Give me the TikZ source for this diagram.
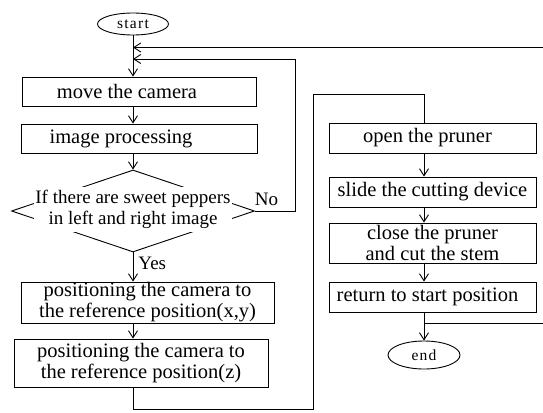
\documentclass[tikz,border=0pt]{standalone}
\usepackage{fontspec}
\setmainfont{Liberation Serif}
\usetikzlibrary{shapes.geometric,arrows.meta}

\begin{document}
\begin{tikzpicture}[x=1pt,y=-1pt,line width=0.9pt,
  box/.style={draw,rectangle,inner sep=0pt,align=center,
    font=\fontsize{20.5}{21}\selectfont},
  term/.style={draw,ellipse,inner sep=0pt,
    font=\fontsize{15.5}{16}\selectfont\addfontfeature{LetterSpace=8}},
  tag/.style={inner sep=0pt,font=\fontsize{19}{20}\selectfont},
  flow/.style={-{Straight Barb[length=7pt,width=9pt]}}]
\clip (0,0) rectangle (543,412);

% left column
\node[term,minimum width=71,minimum height=22] (start) at (133,24) {start};
\node[box,minimum width=234,minimum height=29] (b1) at (139,91.5) {move the camera\hspace*{24pt}};
\node[box,minimum width=236,minimum height=29] (b2) at (139,138.5) {image processing\hspace*{36pt}};
\node[draw,diamond,inner sep=0pt,minimum width=243,minimum height=82] (d) at (133,211) {};
\node[fill=white,inner xsep=1pt,inner ysep=3pt,align=center,
  font=\fontsize{19}{21}\selectfont] (dt) at (133,209.5)
  {If there are sweet peppers\\in left and right image};
\node[box,minimum width=253,minimum height=41] (b3) at (147.5,302.5)
  {positioning the camera to\\the reference position(x,y)};
\node[box,minimum width=254,minimum height=48] (b4) at (141,363)
  {positioning the camera to\\the reference position(z)};
\node[tag,anchor=west] (yes) at (138,263) {Yes};
\node[tag] (no) at (266.5,199.5) {No};

% right column
\node[box,minimum width=207,minimum height=30] (r1) at (432.5,138) {open the pruner\hspace*{10pt}};
\node[box,minimum width=207,minimum height=30] (r2) at (432.5,192) {slide the cutting device};
\node[box,minimum width=207,minimum height=40] (r3) at (432.5,243) {close the pruner\\and cut the stem};
\node[box,minimum width=207,minimum height=30] (r4) at (432.5,297) {return to start position\hspace*{10pt}};
\node[term,minimum width=72,minimum height=28] (end) at (424,355) {end};

% bend points
\coordinate (loopin) at (133,47.5);
\coordinate (noin) at (133,59);
\coordinate (noup) at (295,211);
\coordinate (notop) at (295,59);
\coordinate (low) at (313,409);
\coordinate (high) at (313,94);
\coordinate (retout) at (424,323);
\coordinate (retfar) at (548,323);
\coordinate (rettop) at (548,47.5);

% main flow, left
\draw[flow] (start.south) -- (start.south |- b1.north);
\draw[flow] (start.south |- b1.south) -- (start.south |- b2.north);
\draw[flow] (start.south |- b2.south) -- (d.north);
\draw[flow] (d.south) -- (d.south |- b3.north);
\draw[flow] (d.south |- b3.south) -- (d.south |- b4.north);

% no branch back to the camera step
\draw[flow] (d.east) -- (noup) -- (notop) -- (noin);

% over to the cutting steps
\draw (d.south |- b4.south) |- (low) -- (high) -| (end.north |- r1.north);

% main flow, right
\draw[flow] (end.north |- r1.south) -- (end.north |- r2.north);
\draw[flow] (end.north |- r2.south) -- (end.north |- r3.north);
\draw[flow] (end.north |- r3.south) -- (end.north |- r4.north);
\draw[flow] (end.north |- r4.south) -- (end.north);

% return loop
\draw[flow] (retout) -- (retfar) -- (rettop) -- (loopin);
\end{tikzpicture}
\end{document}
